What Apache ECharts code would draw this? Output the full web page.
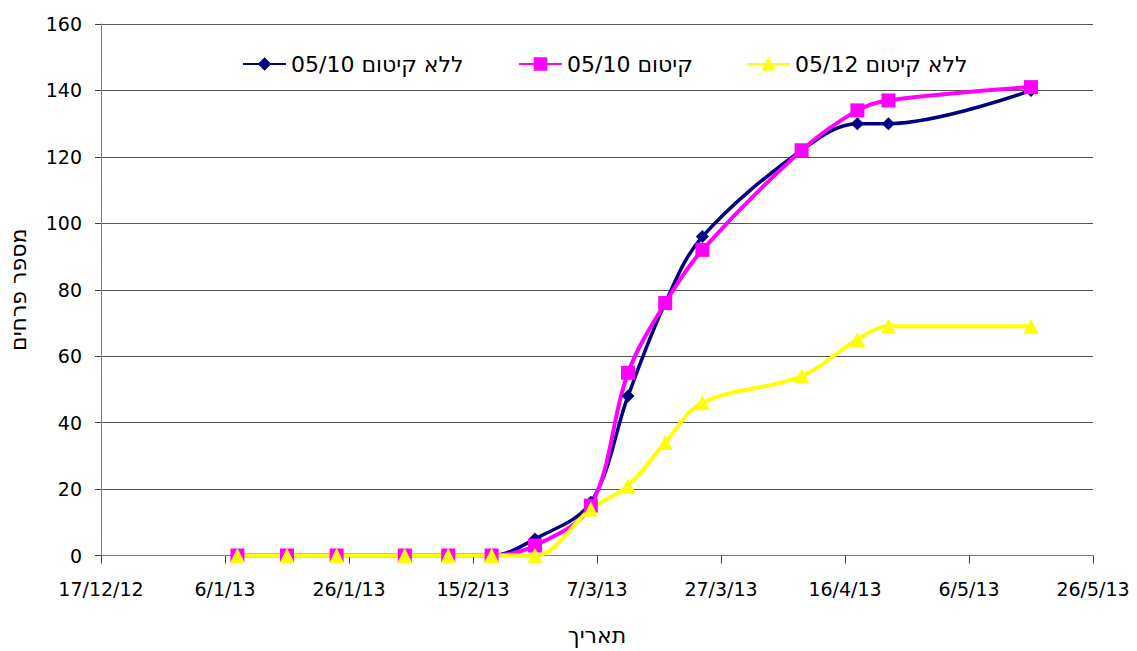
<!DOCTYPE html>
<html>
<head>
<meta charset="utf-8">
<script src="https://cdn.jsdelivr.net/npm/echarts@6/dist/echarts.min.js"></script>
<style>
html,body{margin:0;padding:0;background:#fff;}
#c{width:1137px;height:651px;}
</style>
</head>
<body>
<div id="c"></div>
<script>
// ---- data ----
var dates = ['2013-01-08','2013-01-16','2013-01-24','2013-02-04','2013-02-11','2013-02-18','2013-02-25',
             '2013-03-06','2013-03-12','2013-03-18','2013-03-24','2013-04-09','2013-04-18','2013-04-23','2013-05-16'];
var seriesNames = ['ללא קיטום 05/10', 'קיטום 05/10', 'ללא קיטום 05/12'];
var navyValues    = [0,0,0,0,0,0,5,16,48,76,96,122,130,130,140];
var magentaValues = [0,0,0,0,0,0,3,15,55,76,92,122,134,137,141];
var yellowValues  = [0,0,0,0,0,0,0,14,21,34,46,54,65,69,69];
var axisStartDate = '2012-12-17';
var xTickDays = 20;   // tick spacing in days
var xSpanDays = 160;  // axis span in days
var yTickLabels = [0,20,40,60,80,100,120,140,160];
var xAxisName = 'תאריך';
var yAxisName = 'מספר פרחים';

function utc(s){ var p = s.split('-'); return Date.UTC(+p[0], +p[1]-1, +p[2]); }
var base = utc(axisStartDate);
function dayOf(s){ return Math.round((utc(s) - base) / 86400000); }
function labelOf(d){
  var t = new Date(base + d * 86400000);
  return t.getUTCDate() + '/' + (t.getUTCMonth()+1) + '/' + String(t.getUTCFullYear()).slice(2);
}
function pairs(vals){ return dates.map(function(s,i){ return [dayOf(s), vals[i]]; }); }

var font = 'DejaVu Sans';
var chart = echarts.init(document.getElementById('c'), null, { renderer:'svg' });
function mkLegend(name, left){
  return { data:[name], left:left, top:53, padding:0, itemWidth:43, itemHeight:17, itemGap:6,
    textStyle:{ fontFamily:font, fontSize:22, color:'#000' } };
}
chart.setOption({
  animation:false,
  backgroundColor:'#fff',
  legend:[ mkLegend(seriesNames[0], 242), mkLegend(seriesNames[1], 518), mkLegend(seriesNames[2], 746) ],
  grid:{ left:101, right:44, top:24, bottom:95.5, containLabel:false, outerBoundsMode:'none' },
  xAxis:{
    type:'value', min:0, max:xSpanDays, interval:xTickDays,
    name:xAxisName, nameLocation:'middle', nameGap:69,
    nameTextStyle:{ fontFamily:font, fontSize:22, color:'#000' },
    axisLine:{ lineStyle:{ color:'#808080', width:1 } },
    axisTick:{ show:true, length:8, lineStyle:{ color:'#404040' } },
    axisLabel:{ fontFamily:font, fontSize:19, color:'#000', margin:24, formatter:function(v){ return labelOf(v); } },
    splitLine:{ show:false }
  },
  yAxis:{
    type:'value', min:yTickLabels[0], max:yTickLabels[yTickLabels.length-1], interval:yTickLabels[1]-yTickLabels[0],
    name:yAxisName, nameLocation:'middle', nameGap:72, nameRotate:90,
    nameTextStyle:{ fontFamily:font, fontSize:22, color:'#000' },
    axisLine:{ show:true, lineStyle:{ color:'#808080', width:1 } },
    axisTick:{ show:true, length:6, lineStyle:{ color:'#404040' } },
    axisLabel:{ fontFamily:font, fontSize:19, color:'#000', margin:19 },
    splitLine:{ show:true, lineStyle:{ color:'#555', width:1 } }
  },
  series:[
    { name:seriesNames[0], type:'line', data:pairs(navyValues), smooth:0.35,
      symbol:'diamond', symbolSize:13, lineStyle:{ width:3.5, color:'#000080' },
      itemStyle:{ color:'#000080' } },
    { name:seriesNames[1], type:'line', data:pairs(magentaValues), smooth:0.35,
      symbol:'rect', symbolSize:14, lineStyle:{ width:4, color:'#FF00FF' },
      itemStyle:{ color:'#FF00FF' } },
    { name:seriesNames[2], type:'line', data:pairs(yellowValues), smooth:0.35,
      symbol:'triangle', symbolSize:15, lineStyle:{ width:4, color:'#FFFF00' },
      itemStyle:{ color:'#FFFF00' } }
  ]
});
</script>
</body>
</html>
